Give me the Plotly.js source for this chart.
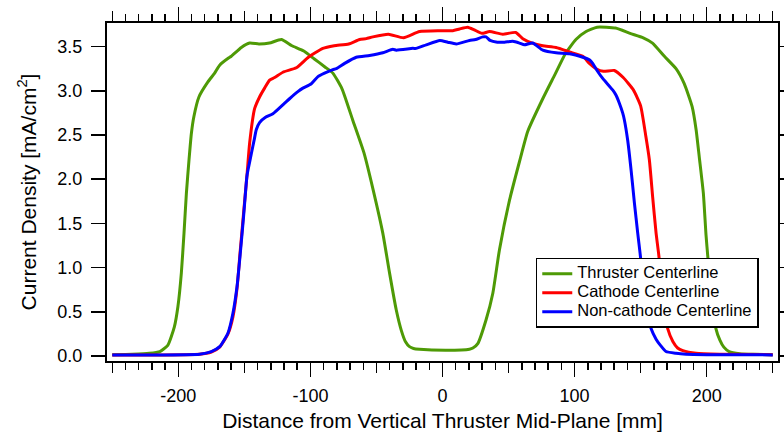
<!DOCTYPE html>
<html>
<head>
<meta charset="utf-8">
<script src="https://cdn.plot.ly/plotly-3.0.1.min.js"></script>
<style>html,body{margin:0;padding:0;background:#fff;}#chart{width:784px;height:436px;}</style>
</head>
<body>
<div id="chart"></div>
<script>
// Thruster Centerline
const xThruster = [-250,-235,-222,-214,-208,-203,-200.3,-197.7,-195.7,-193.9,-191.9,-190.1,-188.2,-184.4,-177.6,-172.5,-168.7,-162,-159.9,-152.3,-146,-139,-131,-122,-114,-105,-97,-89,-83,-76,-68,-59.5,-52.5,-45.2,-40.1,-35,-31.2,-28,-25,-22,-17.4,3,20.4,23,26.7,33,38.1,43.1,50.7,58.3,64.5,75.9,85,93,101,108.7,117,131,142,152,159,168,176.8,183,189,192,194.4,197.5,199.5,201,203.5,205.5,207,210,213,217,225,235,250];
const yThruster = [0.015,0.02,0.03,0.05,0.12,0.33,0.56,0.94,1.39,1.84,2.22,2.52,2.71,2.93,3.10,3.20,3.29,3.37,3.39,3.49,3.54,3.53,3.54,3.58,3.51,3.45,3.36,3.27,3.20,3.02,2.67,2.30,1.88,1.39,0.94,0.52,0.29,0.16,0.105,0.085,0.076,0.065,0.076,0.09,0.14,0.41,0.71,1.20,1.76,2.20,2.54,2.91,3.18,3.42,3.58,3.67,3.72,3.71,3.65,3.60,3.54,3.39,3.25,3.08,2.82,2.56,2.25,1.84,1.37,1.10,0.75,0.50,0.31,0.18,0.10,0.05,0.025,0.018,0.015];

// Cathode Centerline
const xCathode = [-250,-222,-184,-175,-168.7,-162.4,-158.7,-155.6,-153.3,-150.4,-148,-146,-142.2,-138.5,-134.7,-130.9,-127.1,-120.8,-110.7,-101.5,-90.6,-82,-71,-62.8,-57.7,-52.7,-41,-29.5,-17.4,-2.3,7.8,12.9,19.1,24,29.8,35.6,45.6,55.5,60.8,68,75.9,86,96.1,106.2,111.2,116.3,121.8,130.1,136.8,144.5,150,154,156.6,159.1,161.7,163.6,165.5,167,168.5,170.5,174.5,178,182,192,210,250];
const yCathode = [0.01,0.011,0.02,0.045,0.10,0.25,0.44,0.76,1.16,1.65,2.05,2.41,2.80,2.93,3.03,3.12,3.15,3.21,3.26,3.38,3.48,3.51,3.53,3.58,3.59,3.61,3.64,3.60,3.67,3.68,3.68,3.70,3.72,3.69,3.65,3.67,3.64,3.66,3.59,3.54,3.51,3.49,3.44,3.39,3.31,3.25,3.22,3.23,3.15,3.01,2.83,2.48,2.22,1.80,1.39,1.16,0.9,0.65,0.47,0.31,0.16,0.09,0.06,0.03,0.02,0.015];

// Non-cathode Centerline
const xNonCathode = [-250,-222,-184,-175,-168.7,-162.4,-158.7,-155.6,-153.1,-150.6,-148.1,-147.3,-144.7,-142.5,-141,-138.5,-134,-128.4,-119.5,-115.8,-109.5,-105.7,-99.3,-94.3,-89.3,-83,-80.4,-74.1,-65.3,-55.2,-45.2,-37.6,-35,-22.5,-19.9,-12.3,-2,4,10.4,20.4,25,30.5,33,36,41.5,47,53.2,58.3,62,68.3,75.9,86,96.1,106.2,111.2,113.7,117,121.3,128.8,131.4,133.9,136.4,137.7,140.2,142.8,145.3,147.8,149.6,151.5,153.5,155.5,157.9,161.7,165,169.2,176.8,184.4,200,250];
const yNonCathode = [0.01,0.011,0.02,0.05,0.105,0.26,0.48,0.78,1.16,1.58,2.03,2.10,2.29,2.45,2.56,2.64,2.70,2.74,2.86,2.91,2.99,3.03,3.08,3.16,3.20,3.24,3.25,3.31,3.38,3.40,3.43,3.47,3.46,3.48,3.48,3.52,3.57,3.55,3.53,3.57,3.58,3.61,3.61,3.57,3.55,3.55,3.56,3.54,3.52,3.54,3.46,3.43,3.42,3.38,3.35,3.31,3.23,3.14,3.01,2.95,2.86,2.75,2.67,2.44,2.10,1.73,1.39,1.16,0.90,0.65,0.47,0.31,0.19,0.12,0.05,0.03,0.02,0.015,0.012];

const seriesNames = ["Thruster Centerline", "Cathode Centerline", "Non-cathode Centerline"];
const seriesColors = ["rgb(78,154,6)", "rgb(255,0,0)", "rgb(0,0,255)"];

// Tick labels (hyphen-minus as in the original)
const xTickVals = [-200, -100, 0, 100, 200];
const xTickText = ["-200", "-100", "0", "100", "200"];

const FONT = 'Arial, "Liberation Sans", sans-serif';
const xRange = [-254, 254];

function line(x, y, i) {
  return {x: x, y: y, type: 'scatter', mode: 'lines',
    name: '<span style="font-size:16.5px">' + seriesNames[i] + '</span>',
    line: {color: seriesColors[i], width: 3, shape: 'spline', smoothing: 0.5}};
}

const traces = [
  line(xThruster, yThruster, 0),
  line(xCathode, yCathode, 1),
  line(xNonCathode, yNonCathode, 2),
  {x: [], y: [], xaxis: 'x2', yaxis: 'y', type: 'scatter', mode: 'lines', showlegend: false, hoverinfo: 'skip'}
];

const layout = {
  width: 784, height: 436,
  margin: {l: 107, r: 6, t: 23, b: 75},
  paper_bgcolor: '#fff', plot_bgcolor: '#fff',
  font: {family: FONT, size: 18, color: '#000'},
  showlegend: true,
  xaxis: {
    range: xRange, tickmode: 'array', tickvals: xTickVals, ticktext: xTickText,
    ticks: 'outside', ticklen: 14, tickwidth: 1.5, tickcolor: '#000', ticklabelstandoff: 3,
    showline: true, linewidth: 2, linecolor: '#000', mirror: 'ticks', showgrid: false, zeroline: false,
    tickfont: {family: FONT, size: 18},
    minor: {tickmode: 'linear', tick0: 0, dtick: 10, ticks: 'outside', ticklen: 7, tickwidth: 1.5, tickcolor: '#000', showgrid: false},
    title: {text: 'Distance from Vertical Thruster Mid-Plane [mm]', font: {family: FONT, size: 21}, standoff: 9}
  },
  xaxis2: {
    overlaying: 'x', side: 'bottom', range: xRange, tick0: 50, dtick: 100, ticks: 'outside', ticklen: 11,
    tickwidth: 1.5, tickcolor: '#000', showticklabels: false, showline: false, mirror: 'ticks',
    showgrid: false, zeroline: false
  },
  yaxis: {
    range: [-0.057, 3.767], tick0: 0, dtick: 0.5, tickformat: '.1f', ticks: 'outside', ticklen: 14, tickwidth: 1.5,
    tickcolor: '#000', ticklabelstandoff: 5,
    showline: true, linewidth: 2, linecolor: '#000', mirror: 'ticks', showgrid: false, zeroline: false,
    tickfont: {family: FONT, size: 18},
    title: {text: '\u00A0\u00A0\u00A0\u00A0Current Density [mA/cm<sup>2</sup>]', font: {family: FONT, size: 21}, standoff: 15}
  },
  legend: {
    x: 0.639, y: 0.3056, xanchor: 'left', yanchor: 'top',
    bgcolor: '#fff', bordercolor: '#000', borderwidth: 1.5,
    font: {family: FONT, size: 10.5, color: '#000'}
  }
};

Plotly.newPlot('chart', traces, layout, {displayModeBar: false, staticPlot: true});
</script>
</body>
</html>
